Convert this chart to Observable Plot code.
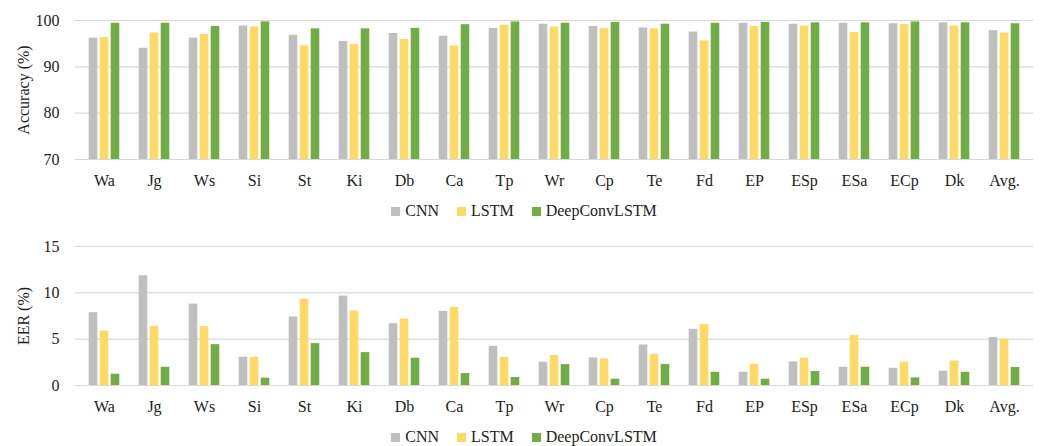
<!DOCTYPE html>
<html>
<head>
<meta charset="utf-8">
<script src="https://cdn.jsdelivr.net/npm/d3@7"></script>
<script src="https://cdn.jsdelivr.net/npm/@observablehq/plot@0.6"></script>
<style>
  html, body { margin: 0; padding: 0; background: #fff; }
  #page { position: relative; width: 1040px; height: 446px; color: #222; }
  .panel { position: absolute; left: 0; }
  .legend { position: absolute; left: 8px; width: 1032px; display: flex; justify-content: center; align-items: center;
            font-family: "Liberation Serif", "Times New Roman", serif; font-size: 16px; line-height: 18px; color: #222; }
  .legend .item { display: flex; align-items: center; margin: 0 9px; }
  .legend .swatch { width: 9px; height: 9px; margin-right: 5px; }
</style>
</head>
<body>
<div id="page"></div>
<script>
// Activities on the x axis
const activities = ["Wa", "Jg", "Ws", "Si", "St", "Ki", "Db", "Ca", "Tp", "Wr", "Cp", "Te", "Fd", "EP", "ESp", "ESa", "ECp", "Dk", "Avg."];
const models = ["CNN", "LSTM", "DeepConvLSTM"];
const modelColors = ["#bfbfbf", "#ffd966", "#70ad47"];

// Accuracy (%) per activity
const accCNN  = [96.2, 94.0, 96.2, 98.8, 96.8, 95.5, 97.2, 96.6, 98.3, 99.2, 98.7, 98.4, 97.5, 99.4, 99.2, 99.4, 99.3, 99.5, 97.8];
const accLSTM = [96.3, 97.3, 97.0, 98.6, 94.5, 94.8, 95.9, 94.5, 99.0, 98.6, 98.3, 98.2, 95.6, 98.7, 98.8, 97.4, 99.1, 98.8, 97.3];
const accDCL  = [99.4, 99.4, 98.7, 99.7, 98.2, 98.2, 98.3, 99.1, 99.7, 99.4, 99.6, 99.2, 99.4, 99.6, 99.5, 99.5, 99.7, 99.5, 99.3];
const accTicks = [70, 80, 90, 100];

// Equal error rate (%) per activity
const eerCNN  = [7.86, 11.84, 8.78, 3.05, 7.39, 9.65, 6.67, 8.00, 4.23, 2.51, 2.97, 4.37, 6.06, 1.43, 2.54, 1.97, 1.86, 1.54, 5.17];
const eerLSTM = [5.88, 6.38, 6.35, 3.05, 9.33, 8.03, 7.17, 8.43, 3.05, 3.23, 2.86, 3.37, 6.56, 2.29, 2.94, 5.38, 2.51, 2.65, 4.98];
const eerDCL  = [1.22, 1.97, 4.41, 0.79, 4.52, 3.55, 2.94, 1.29, 0.86, 2.26, 0.68, 2.26, 1.43, 0.68, 1.51, 1.97, 0.82, 1.43, 1.94];
const eerTicks = [0, 5, 10, 15];

const page = document.getElementById("page");

function toRows(series) {
  return models.flatMap((m, i) => activities.map((a, j) => ({activity: a, model: m, value: series[i][j]})));
}

function chart(series, ticks, label) {
  const rows = toRows(series);
  const base = ticks[0];
  const barStep = 11;      // distance between neighbouring bars in a group
  const barWidth = 8.6;
  const marks = [
    Plot.ruleY(ticks, {stroke: "#d9d9d9", strokeWidth: 1.2})
  ];
  models.forEach((m, i) => {
    marks.push(Plot.barY(rows.filter(d => d.model === m), {
      x: "activity",
      y1: base,
      y2: "value",
      fill: modelColors[i],
      dx: (i - 1) * barStep,
      render(index, scales, values, dimensions, context, next) {
        // narrow each bar to a fixed width centred in its band
        const g = next(index, scales, values, dimensions, context);
        const bw = scales.x.bandwidth();
        d3.select(g).selectAll("rect")
          .attr("x", function () { return +this.getAttribute("x") + (bw - barWidth) / 2; })
          .attr("width", barWidth);
        return g;
      }
    }));
  });
  return Plot.plot({
    width: 1040,
    height: 199,
    marginTop: 20,
    marginBottom: 40,
    marginLeft: 75,
    marginRight: 7,
    style: {fontFamily: "'Liberation Serif', 'Times New Roman', serif", fontSize: "16px", color: "#222", background: "transparent"},
    x: {domain: activities, padding: 0, tickSize: 0, tickPadding: 15, label: null},
    y: {domain: [ticks[0], ticks[ticks.length - 1]], ticks: ticks, tickSize: 0, tickPadding: 16,
        label, labelAnchor: "center", labelArrow: "none", labelOffset: 58},
    marks
  });
}

function legend(top) {
  const div = document.createElement("div");
  div.className = "legend";
  div.style.top = top + "px";
  models.forEach((m, i) => {
    const item = document.createElement("div");
    item.className = "item";
    const sw = document.createElement("div");
    sw.className = "swatch";
    sw.style.background = modelColors[i];
    const tx = document.createElement("span");
    tx.textContent = m;
    item.append(sw, tx);
    div.append(item);
  });
  return div;
}

const top1 = document.createElement("div");
top1.className = "panel";
top1.style.top = "0px";
top1.append(chart([accCNN, accLSTM, accDCL], accTicks, "Accuracy (%)"));
page.append(top1, legend(202));

const top2 = document.createElement("div");
top2.className = "panel";
top2.style.top = "226px";
top2.append(chart([eerCNN, eerLSTM, eerDCL], eerTicks, "EER (%)"));
page.append(top2, legend(428));
</script>
</body>
</html>
